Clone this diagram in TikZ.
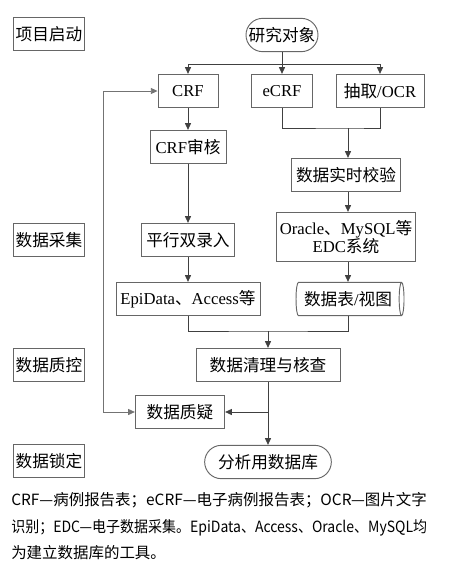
\documentclass[tikz,border=0pt]{standalone}
\usepackage{fontspec}
\setmainfont{Liberation Serif}
\newfontfamily\cjk{Noto Sans CJK SC}
\usepackage{tikz}
\usetikzlibrary{arrows.meta, positioning, shapes.geometric, calc}
\colorlet{boxline}{black!60}
\colorlet{flowline}{black!75}
\newcommand{\zh}[1]{{\cjk #1}}

\begin{document}
\begin{tikzpicture}[x=0.75pt, y=-0.75pt,
  box/.style={draw=boxline, line width=0.7pt, minimum height=25pt, inner sep=1.5pt,
    font=\fontsize{12.5}{14}\selectfont},
  stage/.style={box, minimum width=52.5pt},
  pill/.style={box, rounded corners=12.5pt},
  flow/.style={draw=flowline, line width=0.6pt},
  arr/.style={flow, -{Triangle[length=5pt, width=4.5pt]}},
  dblarr/.style={flow, {Triangle[length=5pt, width=4.5pt]}-{Triangle[length=5pt, width=4.5pt]}}]
  \useasboundingbox (0,0) rectangle (475,569);

  % stage labels on the left
  \node[stage] (start)   at (49,34)  {\zh{项目启动}};
  \node[stage] (collect) at (49,240) {\zh{数据采集}};
  \node[stage] (qc)      at (49,365) {\zh{数据质控}};
  \node[stage] (lock)    at (49,461) {\zh{数据锁定}};

  % sources
  \node[pill, minimum width=54pt] (subj) at (282,35) {\zh{研究对象}};
  \node[box, minimum width=45pt] (crf)  at (188,91) {CRF};
  \node[box, minimum width=46pt] (ecrf) at (282,91) {eCRF};
  \node[box, minimum width=66pt] (ocr)  at (380,91) {\zh{抽取}/OCR};

  % paper branch
  \node[box, minimum width=57pt]  (crfcheck) at (188,147) {CRF\zh{审核}};
  \node[box, minimum width=70pt]  (dual)     at (188,240) {\zh{平行双录入}};
  \node[box, minimum width=108pt] (epi)      at (188,299) {EpiData\zh{、}Access\zh{等}};

  % electronic branch
  \node[box, minimum width=82pt] (rtcheck) at (346,175) {\zh{数据实时校验}};
  \node[box, minimum width=104pt, minimum height=37pt, align=center] (edc) at (346,237)
    {Oracle\zh{、}MySQL\zh{等}\\EDC\zh{系统}};
  \node[box, cylinder, shape aspect=0.25, minimum width=25pt, minimum height=81pt] (tbl)
    at (348,299) {\zh{数据表}/\zh{视图}};

  % cleaning and lock
  \node[box, minimum width=108pt] (clean) at (268,365) {\zh{数据清理与核查}};
  \node[box, minimum width=67pt]  (query) at (180,412) {\zh{数据质疑}};
  \node[pill, minimum width=95pt] (anadb) at (268,462) {\zh{分析用数据库}};

  % connectors
  \coordinate (br) at (282,64);
  \draw[arr] (subj) -- (ecrf);
  \draw[arr] (br) -| (crf);
  \draw[arr] (br) -| (ocr);
  \draw[arr] (crf) -- (crfcheck);
  \draw[arr] (crfcheck) -- (dual);
  \draw[arr] (dual) -- (epi);

  \coordinate (j1) at (348,128);
  \draw[flow] (ecrf.south) |- (j1) -| (ocr.south);
  \draw[arr] (j1) -- (j1 |- rtcheck.north);
  \draw[arr] (j1 |- rtcheck.south) -- (j1 |- edc.north);
  \draw[arr] (j1 |- edc.south) -- (j1 |- tbl.north);

  \coordinate (j2) at (268,331);
  \draw[flow] (epi.south) |- (j2) -| (j1 |- tbl.south);
  \draw[arr] (j2) -- (clean);
  \draw[arr] (clean) -- (anadb);
  \draw[arr] (clean.south |- query.east) -- (query.east);

  % feedback loop
  \coordinate (fb) at (103,91);
  \draw[dblarr, draw=black!55] (query.west) -| (fb) -- (crf.west);

  % footnote
  \node[anchor=north west, inner sep=0pt, align=left,
    font=\cjk\fontsize{11.6}{20}\selectfont] (note) at (11,492)
    {CRF—病例报告表；eCRF—电子病例报告表；OCR—图片文字\\
     \scalebox{0.905}[1]{识别；EDC—电子数据采集。EpiData、Access、Oracle、MySQL均}\\
     为建立数据库的工具。};
\end{tikzpicture}
\end{document}
